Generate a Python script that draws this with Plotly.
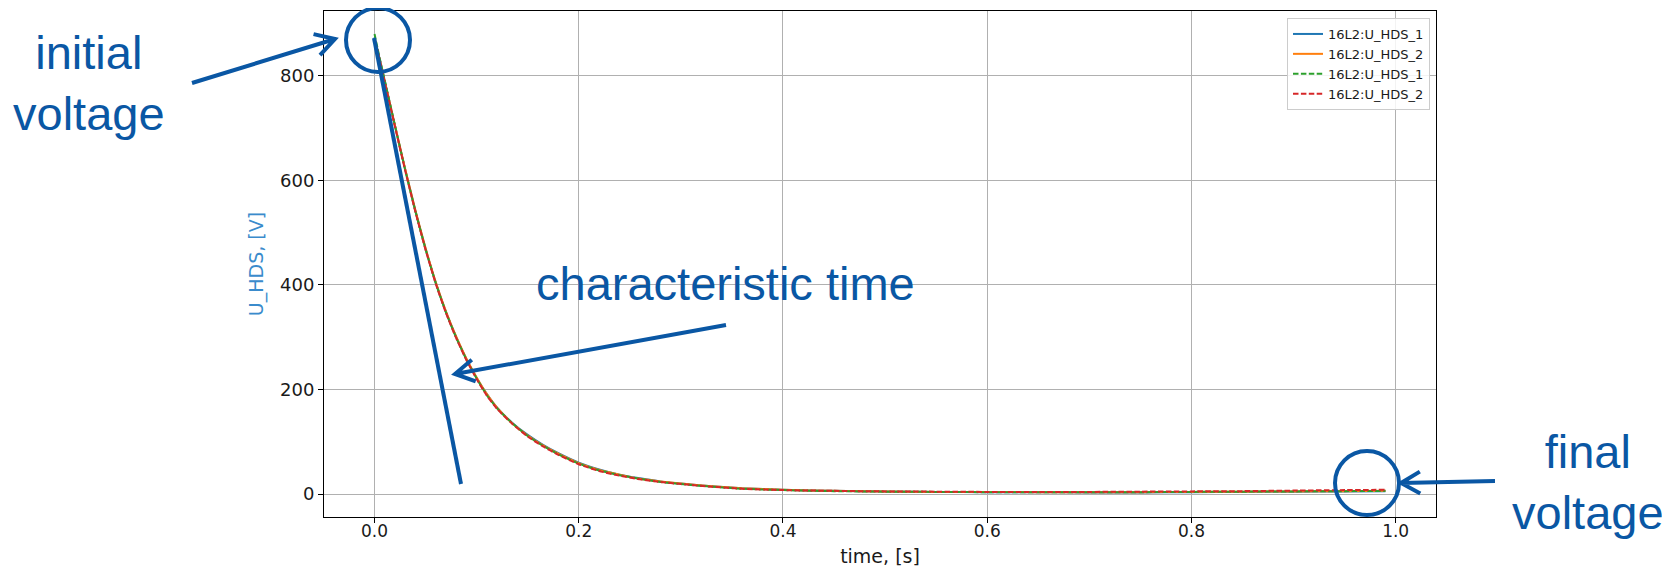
import math
import plotly.graph_objects as go

# ---------------- data ----------------
time_s = [0.000, 0.005, 0.010, 0.020, 0.030, 0.040, 0.050, 0.060, 0.070, 0.080,
          0.090, 0.100, 0.110, 0.120, 0.135, 0.150, 0.165, 0.180, 0.200, 0.220,
          0.240, 0.260, 0.280, 0.300, 0.330, 0.360, 0.400, 0.450, 0.500, 0.550,
          0.600, 0.650, 0.700, 0.750, 0.800, 0.850, 0.900, 0.950, 0.990]

u_hds_1_meas = [874, 832, 790, 704, 621, 542, 469, 404, 348, 300,
                258, 222, 191, 165, 136, 113, 94, 78, 60, 47,
                37, 30, 24, 20, 15, 11, 8, 6, 5, 4,
                3.5, 3.5, 3, 3, 3.5, 4, 4.5, 5, 5.5]
u_hds_2_meas = [870, 830, 789, 705, 622, 543, 470, 405, 349, 301,
                259, 223, 191, 165, 135, 112, 93, 77, 59, 46,
                37, 29, 24, 20, 15, 11, 8, 6, 5, 4,
                4, 3.5, 3.5, 3.5, 4, 4.5, 5, 5.5, 6]
u_hds_1_model = [880, 834, 791, 705, 620, 541, 468, 403, 347, 299,
                 257, 221, 189, 164, 135, 111, 92, 76, 58, 45,
                 36, 29, 23, 19, 14, 10, 7.5, 5.5, 4.5, 4,
                 3.5, 3.5, 3.5, 3.5, 4, 4.5, 5, 5.5, 6]
u_hds_2_model = [872, 831, 788, 703, 619, 540, 467, 402, 346, 298,
                 256, 220, 188, 163, 134, 110, 91, 75, 57, 44,
                 35, 28, 23, 19, 14, 10, 7.5, 6, 5, 4.5,
                 4, 4, 4, 4.5, 5, 5.5, 6.5, 7.5, 8]

series_names = ["16L2:U_HDS_1", "16L2:U_HDS_2", "16L2:U_HDS_1", "16L2:U_HDS_2"]
series_values = [u_hds_1_meas, u_hds_2_meas, u_hds_1_model, u_hds_2_model]
series_colors = ["#1f77b4", "#ff7f0e", "#2ca02c", "#d62728"]
series_dash = ["solid", "solid", "5.5px,2.4px", "5.5px,2.4px"]

x_ticks = [0.0, 0.2, 0.4, 0.6, 0.8, 1.0]
y_ticks = [0, 200, 400, 600, 800]

# ---------------- figure ----------------
OFF = 8                      # page body margin of the html page
W, H = 1662, 562
PL, PR, PT, PB = 324, 1436, 11, 517     # plot-area edges on the page
L, T = PL - OFF, PT - OFF
R, B = OFF + W - PR, OFF + H - PB
PW, PH = PR - PL, PB - PT

fig = go.Figure()
for name, vals, col, dash in zip(series_names, series_values, series_colors, series_dash):
    fig.add_trace(go.Scatter(x=time_s, y=vals, mode="lines", name=name,
                             line=dict(color=col, width=2, dash=dash, shape="spline", smoothing=0.5)))

axis_common = dict(showgrid=True, gridcolor="#b0b0b0", gridwidth=1, zeroline=False,
                   showline=True, linecolor="#000000", linewidth=1, mirror=True,
                   ticks="outside", ticklen=5, tickcolor="#000000", tickwidth=1)

fig.update_xaxes(range=[-0.0495, 1.0395], tickvals=x_ticks, tickformat=".1f",
                 tickfont=dict(family="DejaVu Sans", size=17, color="#1a1a1a"),
                 ticklabelstandoff=-6,
                 title=dict(text="time, [s]", standoff=9,
                            font=dict(family="DejaVu Sans", size=19, color="#1a1a1a")),
                 **axis_common)
fig.update_yaxes(range=[-44, 924], tickvals=y_ticks,
                 tickfont=dict(family="DejaVu Sans", size=18, color="#1a1a1a"),
                 title=dict(text="U_HDS, [V]", standoff=11,
                            font=dict(family="DejaVu Sans", size=19, color="#3a8bcc")),
                 **axis_common)

def px(x):
    return (x - PL) / PW

def py(y):
    return (PB - y) / PH

BLUE = "#0a57a4"
shapes = []

def add_line(x0, y0, x1, y1):
    shapes.append(dict(type="line", xref="paper", yref="paper",
                       x0=px(x0), y0=py(y0), x1=px(x1), y1=py(y1),
                       line=dict(color=BLUE, width=4)))

def add_circle(cx, cy, r):
    shapes.append(dict(type="circle", xref="paper", yref="paper",
                       x0=px(cx - r), y0=py(cy + r), x1=px(cx + r), y1=py(cy - r),
                       line=dict(color=BLUE, width=4)))

def add_arrow(tx, ty, hx, hy, ang=30, ln=22):
    dx, dy = tx - hx, ty - hy
    base = math.atan2(dy, dx)
    pts = []
    for s in (1, -1):
        a = base + s * math.radians(ang)
        pts.append((hx + ln * math.cos(a), hy + ln * math.sin(a)))
    path = (f"M{px(tx)},{py(ty)} L{px(hx)},{py(hy)} "
            f"M{px(pts[0][0])},{py(pts[0][1])} L{px(hx)},{py(hy)} L{px(pts[1][0])},{py(pts[1][1])}")
    shapes.append(dict(type="path", xref="paper", yref="paper", path=path,
                       line=dict(color=BLUE, width=4)))

add_line(374, 38, 461, 484)
add_circle(378, 40, 32)
add_circle(1367, 483, 32)
add_arrow(192, 83, 335, 39)
add_arrow(726, 325, 455, 374)
add_arrow(1495, 481, 1401, 483)

ann_font = dict(family="Liberation Sans, Arial", size=47, color=BLUE)
annotations = [
    dict(text="initial<br>voltage", x=px(89), y=py(83)),
    dict(text="characteristic time", x=px(725), y=py(283)),
    dict(text="final<br>voltage", x=px(1588), y=py(482)),
]
for a in annotations:
    a.update(xref="paper", yref="paper", showarrow=False, xanchor="center",
             yanchor="middle", font=ann_font, align="center")

fig.update_layout(
    width=W, height=H,
    margin=dict(l=L, r=R, t=T, b=B, autoexpand=False),
    paper_bgcolor="white", plot_bgcolor="white",
    shapes=shapes, annotations=annotations,
    legend=dict(x=px(1430), y=py(18), xanchor="right", yanchor="top",
                bgcolor="rgba(255,255,255,0.85)", bordercolor="#cccccc", borderwidth=1,
                font=dict(family="DejaVu Sans", size=13, color="#1a1a1a"),
                itemwidth=30, tracegroupgap=0),
    showlegend=True,
)

fig.write_html("out.html")
